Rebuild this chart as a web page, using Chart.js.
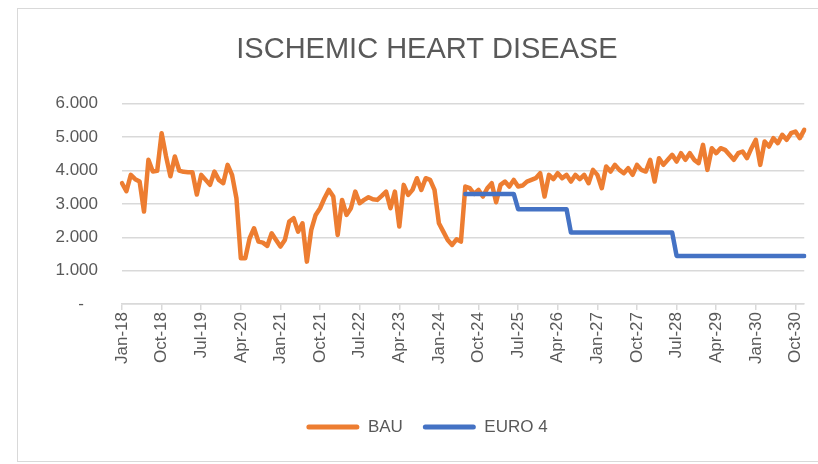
<!DOCTYPE html>
<html>
<head>
<meta charset="utf-8">
<script src="https://cdn.jsdelivr.net/npm/chart.js@4.4.1/dist/chart.umd.min.js"></script>
<style>
html,body{margin:0;padding:0;background:#fff;}
#wrap{position:relative;width:818px;height:464px;overflow:hidden;}
#frame{position:absolute;left:17px;top:8px;width:810px;height:452px;border:1px solid #d9d9d9;border-right:none;pointer-events:none;}
</style>
</head>
<body>
<div id="wrap"><canvas id="c" width="818" height="464"></canvas><div id="frame"></div></div>
<script>
const monthNames = ['Jan','Feb','Mar','Apr','May','Jun','Jul','Aug','Sep','Oct','Nov','Dec'];
const years = [18,19,20,21,22,23,24,25,26,27,28,29,30];
const months = [];
years.forEach(y => monthNames.forEach(m => months.push(m + '-' + y)));

const chartTitle = 'ISCHEMIC HEART DISEASE';
const seriesNames = ['BAU', 'EURO 4'];

const bau = [
  3620,3380,3870,3740,3670,2770,4320,3970,3990,5120,4430,3830,
  4420,4000,3960,3950,3950,3280,3870,3720,3570,3970,3720,3620,
  4170,3870,3170,1370,1370,1970,2270,1870,1840,1740,2120,1920,
  1720,1920,2470,2570,2170,2420,1270,2220,2670,2870,3170,3420,
  3220,2070,3120,2670,2870,3370,3020,3120,3200,3140,3120,3240,
  3370,2870,3370,2320,3570,3270,3420,3770,3420,3770,3720,3420,
  2420,2170,1920,1770,1940,1870,3520,3470,3300,3420,3220,3470,
  3620,3050,3570,3670,3520,3720,3520,3550,3670,3720,3770,3920,
  3220,3870,3740,3920,3770,3870,3670,3870,3740,3870,3620,4020,
  3870,3470,4120,3970,4170,4020,3920,4070,3870,4170,4020,3970,
  4320,3670,4370,4170,4320,4470,4270,4520,4320,4520,4320,4220,
  4770,4020,4670,4520,4670,4620,4470,4320,4520,4570,4370,4670,
  4920,4170,4870,4720,4970,4820,5070,4920,5120,5170,4970,5220
];

const euro4 = [
  null,null,null,null,null,null,null,null,null,null,null,null,
  null,null,null,null,null,null,null,null,null,null,null,null,
  null,null,null,null,null,null,null,null,null,null,null,null,
  null,null,null,null,null,null,null,null,null,null,null,null,
  null,null,null,null,null,null,null,null,null,null,null,null,
  null,null,null,null,null,null,null,null,null,null,null,null,
  null,null,null,null,null,null,3300,3300,3300,3300,3300,3300,
  3300,3300,3300,3300,3300,3300,2840,2840,2840,2840,2840,2840,
  2840,2840,2840,2840,2840,2840,2140,2140,2140,2140,2140,2140,
  2140,2140,2140,2140,2140,2140,2140,2140,2140,2140,2140,2140,
  2140,2140,2140,2140,2140,2140,1440,1440,1440,1440,1440,1440,
  1440,1440,1440,1440,1440,1440,1440,1440,1440,1440,1440,1440,
  1440,1440,1440,1440,1440,1440,1440,1440,1440,1440,1440,1440
];

const colors = ['#ED7D31', '#4472C4'];
const textColor = '#595959';
const gridColor = '#d9d9d9';
const fontFamily = "'Liberation Sans', Arial, sans-serif";

function fmt(v) {
  if (v === 0) return '-   ';
  return String(v).replace(/\B(?=(\d{3})+(?!\d))/g, '.');
}

new Chart(document.getElementById('c'), {
  type: 'line',
  data: {
    labels: months,
    datasets: [
      { label: seriesNames[0], data: bau, borderColor: colors[0], backgroundColor: colors[0],
        borderWidth: 4.5, pointRadius: 0, tension: 0, borderJoinStyle: 'round', borderCapStyle: 'round', order: 1 },
      { label: seriesNames[1], data: euro4, borderColor: colors[1], backgroundColor: colors[1],
        borderWidth: 4.5, pointRadius: 0, tension: 0, borderJoinStyle: 'round', borderCapStyle: 'round', spanGaps: false, order: 0 }
    ]
  },
  options: {
    responsive: false,
    animation: false,
    events: [],
    layout: { padding: { left: 48, right: 12, top: 0, bottom: 18.5 } },
    plugins: {
      tooltip: { enabled: false },
      title: {
        display: true, text: chartTitle, color: textColor,
        font: { family: fontFamily, size: 29, weight: 'normal' },
        padding: { top: 33, bottom: 36 }
      },
      legend: {
        display: true, position: 'bottom',
        labels: {
          color: textColor,
          font: { family: fontFamily, size: 17 },
          boxWidth: 53, boxHeight: 5, padding: 20,
          useBorderRadius: true,
          generateLabels: () => seriesNames.map((n, i) => ({
            text: n, fillStyle: colors[i], strokeStyle: colors[i], lineWidth: 0,
            borderRadius: 2.5, hidden: false, datasetIndex: i, fontColor: textColor
          }))
        }
      }
    },
    scales: {
      x: {
        type: 'category',
        offset: false,
        grid: { drawOnChartArea: false, drawTicks: true, tickLength: 6, color: gridColor, lineWidth: 1.5 },
        border: { display: true, color: gridColor, width: 1.5 },
        ticks: { autoSkip: false, maxRotation: 90, minRotation: 90, padding: 2, color: textColor,
                 font: { family: fontFamily, size: 17 } },
        afterBuildTicks: axis => { axis.ticks = axis.ticks.filter(t => t.value % 9 === 0); },
        afterFit: s => { s.height = 94.5; }
      },
      y: {
        min: 0, max: 6000,
        grid: { color: gridColor, lineWidth: 1.5, drawTicks: false },
        border: { display: false },
        ticks: { stepSize: 1000, padding: 24, color: textColor, font: { family: fontFamily, size: 17 },
                 callback: v => fmt(v) },
        afterFit: s => { s.width = 74; }
      }
    }
  }
});
</script>
</body>
</html>
